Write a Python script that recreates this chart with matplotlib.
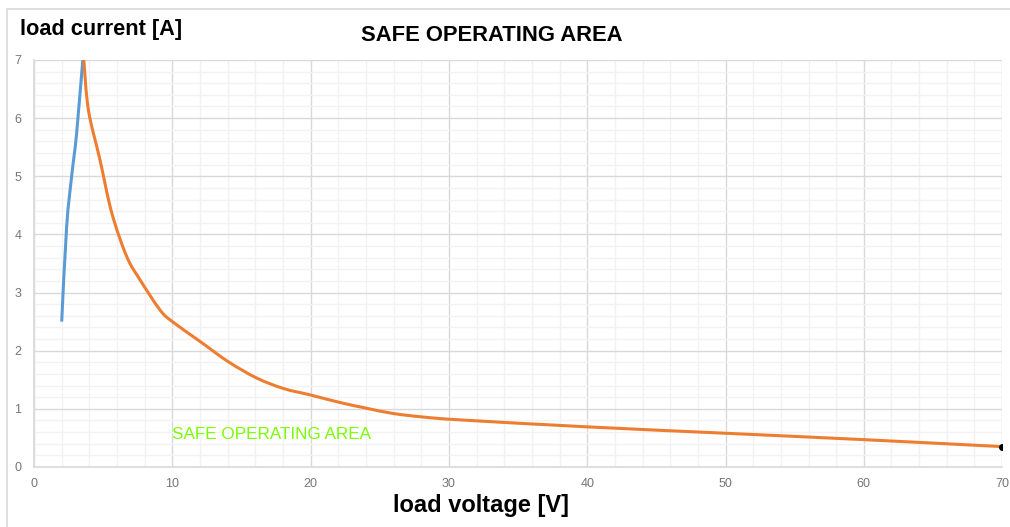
import matplotlib.pyplot as plt
from matplotlib.patches import PathPatch, Rectangle
from matplotlib.path import Path
from matplotlib.ticker import MultipleLocator

# blue rising branch (voltage, current)
blue_v = [2.0, 2.36, 2.72, 3.08, 3.52, 3.6]
blue_i = [2.5, 4.14, 5.0, 5.74, 6.98, 7.0]

# orange SOA limit (voltage, current)
orange_v = [3.6, 3.93, 4.77, 5.62, 6.7, 7.66, 9.11, 10.0, 12.0, 14.05,
            16.1, 18.03, 19.96, 22.1, 24.05, 25.97, 28.1, 30.8, 40, 50, 60, 70]
orange_i = [7.0, 6.14, 5.28, 4.37, 3.62, 3.22, 2.70, 2.50, 2.16, 1.81,
            1.53, 1.35, 1.24, 1.11, 1.01, 0.92, 0.86, 0.81, 0.69, 0.58, 0.47, 0.35]

end_v, end_i = 70, 0.35


def smooth_path(xs, ys):
    """Excel-like smoothed line: Catmull-Rom segments as cubic Beziers."""
    pts = list(zip(xs, ys))
    verts = [pts[0]]
    codes = [Path.MOVETO]
    for k in range(len(pts) - 1):
        p0 = pts[k - 1] if k > 0 else pts[k]
        p1, p2 = pts[k], pts[k + 1]
        p3 = pts[k + 2] if k + 2 < len(pts) else pts[k + 1]
        c1 = (p1[0] + (p2[0] - p0[0]) / 6, p1[1] + (p2[1] - p0[1]) / 6)
        c2 = (p2[0] - (p3[0] - p1[0]) / 6, p2[1] - (p3[1] - p1[1]) / 6)
        verts += [c1, c2, p2]
        codes += [Path.CURVE4] * 3
    return Path(verts, codes)


plt.rcParams["font.family"] = ["Liberation Sans", "DejaVu Sans"]

fig = plt.figure(figsize=(10.1, 5.27), dpi=100)
ax = fig.add_axes([0.0337, 0.1139, 0.9585, 0.7723])

# chart area border (Excel style)
fig.patches.append(Rectangle((7 / 1010, -0.1), 1.2, 1 - 9 / 527 + 0.1,
                             transform=fig.transFigure, fill=False,
                             edgecolor="#d9d9d9", linewidth=1.2))

ax.add_patch(PathPatch(smooth_path(blue_v, blue_i), fill=False,
                       edgecolor="#5b9bd5", linewidth=2.2, capstyle="butt"))
ax.add_patch(PathPatch(smooth_path(orange_v, orange_i), fill=False,
                       edgecolor="#ed7d31", linewidth=2.2))
ax.plot([end_v], [end_i], "o", color="black", markersize=4, zorder=5)

ax.set_xlim(0, 70)
ax.set_ylim(0, 7)
ax.xaxis.set_major_locator(MultipleLocator(10))
ax.xaxis.set_minor_locator(MultipleLocator(2))
ax.yaxis.set_major_locator(MultipleLocator(1))
ax.yaxis.set_minor_locator(MultipleLocator(0.2))
ax.grid(which="major", color="#d9d9d9", linewidth=1)
ax.grid(which="minor", color="#f2f2f2", linewidth=1)
ax.set_axisbelow(True)
ax.tick_params(which="both", length=0, labelsize=9, labelcolor="#767676")
ax.tick_params(axis="x", pad=8)
ax.tick_params(axis="y", pad=9)
for side in ["top", "right"]:
    ax.spines[side].set_visible(False)
for side in ["left", "bottom"]:
    ax.spines[side].set_color("#d9d9d9")
    ax.spines[side].set_linewidth(1.2)

ax.text(10, 0.55, "SAFE OPERATING AREA", color="#7cfc00", fontsize=12.3,
        va="center")

fig.text(0.487, 0.932, "SAFE OPERATING AREA", ha="center", va="center",
         fontsize=15.8, fontweight="bold")
fig.text(0.02, 0.944, "load current [A]", ha="left", va="center",
         fontsize=15.7, fontweight="bold")
fig.text(0.476, 0.041, "load voltage [V]", ha="center", va="center",
         fontsize=17, fontweight="bold")

fig.savefig("out.png", dpi=100)
